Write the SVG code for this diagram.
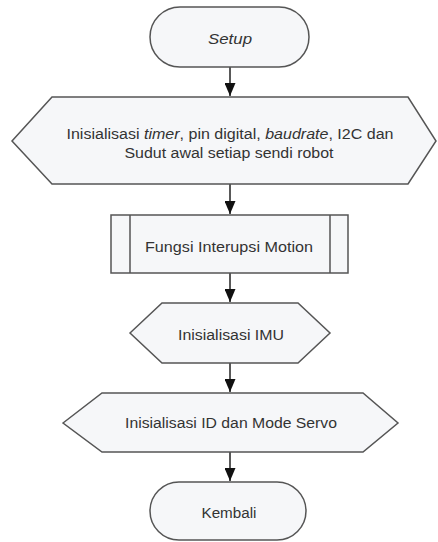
<svg xmlns="http://www.w3.org/2000/svg" width="438" height="542" viewBox="0 0 438 542">
<style>
.s{fill:#f6f7f9;stroke:#555;stroke-width:1.5}
.t{font-family:"Liberation Sans",Arial,sans-serif;font-size:14px;fill:#333;text-anchor:middle}
.c{stroke:#222;stroke-width:1.5;fill:none;marker-end:url(#ah)}
</style>
<defs>
<marker id="ah" markerWidth="13" markerHeight="11" refX="13" refY="5.5" orient="auto" markerUnits="userSpaceOnUse" viewBox="0 0 13 11">
<path d="M0,0 L13,5.5 L0,11 Z" fill="#111"/>
</marker>
</defs>
<rect width="438" height="542" fill="#fff"/>
<g id="connectors">
<line class="c" x1="230" y1="67" x2="230" y2="96"/>
<line class="c" x1="230" y1="184" x2="230" y2="214"/>
<line class="c" x1="230" y1="273" x2="230" y2="302"/>
<line class="c" x1="230" y1="363" x2="230" y2="392"/>
<line class="c" x1="230" y1="452" x2="230" y2="481"/>
</g>
<g id="setup">
<rect class="s" x="150" y="7" width="159" height="60" rx="30" ry="30"/>
<text class="t" x="230" y="44" font-style="italic" textLength="44" lengthAdjust="spacingAndGlyphs">Setup</text>
</g>
<g id="init1">
<polygon class="s" points="12,141 52,97 408,97 436,141 408,184 52,184"/>
<text class="t" x="230" y="139" textLength="327" lengthAdjust="spacingAndGlyphs">Inisialisasi <tspan font-style="italic">timer</tspan>, pin digital, <tspan font-style="italic">baudrate</tspan>, I2C dan</text>
<text class="t" x="229" y="158" textLength="209" lengthAdjust="spacingAndGlyphs">Sudut awal setiap sendi robot</text>
</g>
<g id="motion">
<rect class="s" x="111" y="215" width="237" height="58"/>
<line x1="130" y1="215" x2="130" y2="273" stroke="#555" stroke-width="1.5"/>
<line x1="330" y1="215" x2="330" y2="273" stroke="#555" stroke-width="1.5"/>
<text class="t" x="229" y="252" textLength="168" lengthAdjust="spacingAndGlyphs">Fungsi Interupsi Motion</text>
</g>
<g id="imu">
<polygon class="s" points="130,333 162,303 298,303 330,333 298,363 162,363"/>
<text class="t" x="231" y="340" textLength="106" lengthAdjust="spacingAndGlyphs">Inisialisasi IMU</text>
</g>
<g id="servo">
<polygon class="s" points="63,423 102,393 363,393 398,423 363,452 102,452"/>
<text class="t" x="231" y="428" textLength="212" lengthAdjust="spacingAndGlyphs">Inisialisasi ID dan Mode Servo</text>
</g>
<g id="kembali">
<rect class="s" x="150" y="482" width="156" height="58" rx="29" ry="29"/>
<text class="t" x="229" y="518" textLength="55" lengthAdjust="spacingAndGlyphs">Kembali</text>
</g>
</svg>
